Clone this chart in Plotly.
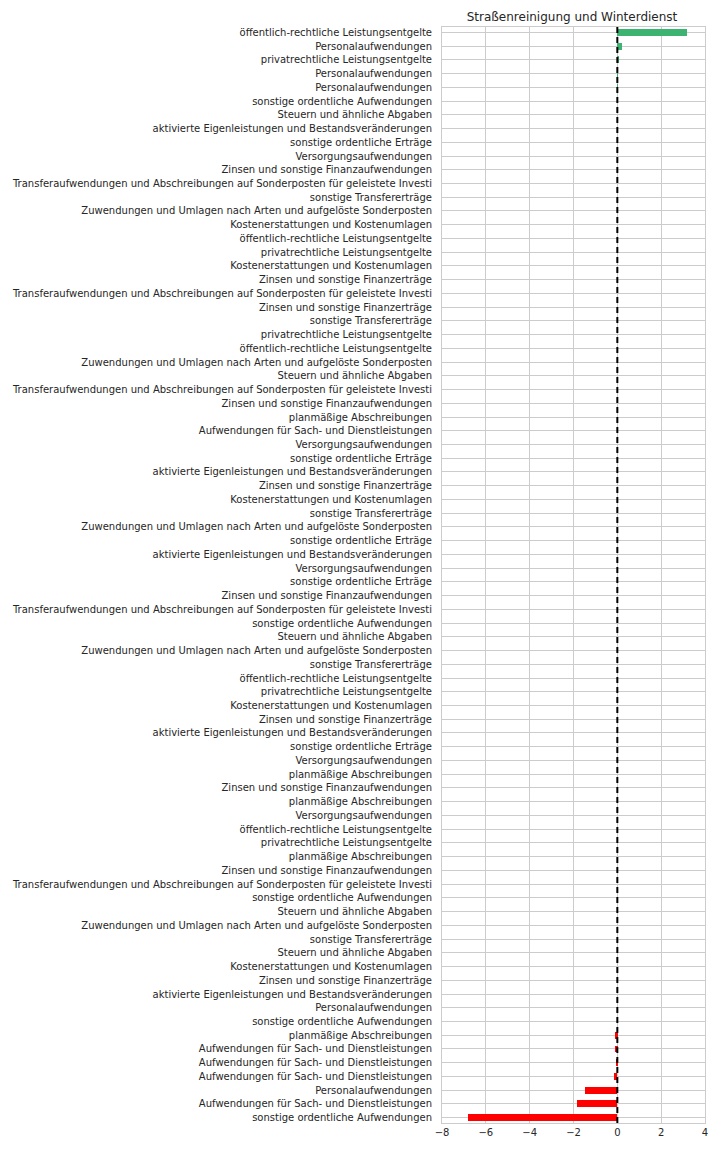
import plotly.graph_objects as go

title = "Straßenreinigung und Winterdienst"

TRANS = "Transferaufwendungen und Abschreibungen auf Sonderposten für geleistete Investi"
ZUW = "Zuwendungen und Umlagen nach Arten und aufgelöste Sonderposten"

labels = [
    "öffentlich-rechtliche Leistungsentgelte",
    "Personalaufwendungen",
    "privatrechtliche Leistungsentgelte",
    "Personalaufwendungen",
    "Personalaufwendungen",
    "sonstige ordentliche Aufwendungen",
    "Steuern und ähnliche Abgaben",
    "aktivierte Eigenleistungen und Bestandsveränderungen",
    "sonstige ordentliche Erträge",
    "Versorgungsaufwendungen",
    "Zinsen und sonstige Finanzaufwendungen",
    TRANS,
    "sonstige Transfererträge",
    ZUW,
    "Kostenerstattungen und Kostenumlagen",
    "öffentlich-rechtliche Leistungsentgelte",
    "privatrechtliche Leistungsentgelte",
    "Kostenerstattungen und Kostenumlagen",
    "Zinsen und sonstige Finanzerträge",
    TRANS,
    "Zinsen und sonstige Finanzerträge",
    "sonstige Transfererträge",
    "privatrechtliche Leistungsentgelte",
    "öffentlich-rechtliche Leistungsentgelte",
    ZUW,
    "Steuern und ähnliche Abgaben",
    TRANS,
    "Zinsen und sonstige Finanzaufwendungen",
    "planmäßige Abschreibungen",
    "Aufwendungen für Sach- und Dienstleistungen",
    "Versorgungsaufwendungen",
    "sonstige ordentliche Erträge",
    "aktivierte Eigenleistungen und Bestandsveränderungen",
    "Zinsen und sonstige Finanzerträge",
    "Kostenerstattungen und Kostenumlagen",
    "sonstige Transfererträge",
    ZUW,
    "sonstige ordentliche Erträge",
    "aktivierte Eigenleistungen und Bestandsveränderungen",
    "Versorgungsaufwendungen",
    "sonstige ordentliche Erträge",
    "Zinsen und sonstige Finanzaufwendungen",
    TRANS,
    "sonstige ordentliche Aufwendungen",
    "Steuern und ähnliche Abgaben",
    ZUW,
    "sonstige Transfererträge",
    "öffentlich-rechtliche Leistungsentgelte",
    "privatrechtliche Leistungsentgelte",
    "Kostenerstattungen und Kostenumlagen",
    "Zinsen und sonstige Finanzerträge",
    "aktivierte Eigenleistungen und Bestandsveränderungen",
    "sonstige ordentliche Erträge",
    "Versorgungsaufwendungen",
    "planmäßige Abschreibungen",
    "Zinsen und sonstige Finanzaufwendungen",
    "planmäßige Abschreibungen",
    "Versorgungsaufwendungen",
    "öffentlich-rechtliche Leistungsentgelte",
    "privatrechtliche Leistungsentgelte",
    "planmäßige Abschreibungen",
    "Zinsen und sonstige Finanzaufwendungen",
    TRANS,
    "sonstige ordentliche Aufwendungen",
    "Steuern und ähnliche Abgaben",
    ZUW,
    "sonstige Transfererträge",
    "Steuern und ähnliche Abgaben",
    "Kostenerstattungen und Kostenumlagen",
    "Zinsen und sonstige Finanzerträge",
    "aktivierte Eigenleistungen und Bestandsveränderungen",
    "Personalaufwendungen",
    "sonstige ordentliche Aufwendungen",
    "planmäßige Abschreibungen",
    "Aufwendungen für Sach- und Dienstleistungen",
    "Aufwendungen für Sach- und Dienstleistungen",
    "Aufwendungen für Sach- und Dienstleistungen",
    "Personalaufwendungen",
    "Aufwendungen für Sach- und Dienstleistungen",
    "sonstige ordentliche Aufwendungen",
]

values = [3.18, 0.22, 0.05, 0.01, 0.005] + [0.0] * 68 + [
    -0.09, -0.09, -0.08, -0.14, -1.46, -1.82, -6.8
]

x_ticks = [-8, -6, -4, -2, 0, 2, 4]

positions = list(range(len(labels)))
colors = ["#3cb371" if v > 0 else "#ff0000" for v in values]

TEXT = "#262626"
GRID = "#cccccc"
n = len(labels)

fig = go.Figure()
fig.add_trace(go.Bar(
    x=values, y=positions, orientation="h", width=0.5,
    marker=dict(color=colors, line=dict(width=0)),
    showlegend=False,
))

fig.add_shape(type="line", xref="x", yref="paper", x0=0, x1=0, y0=0, y1=1,
              line=dict(color="black", width=2, dash="6px,4px"), layer="above")

fig.update_layout(
    width=720, height=1152,
    margin=dict(l=437, r=13, t=27, b=29),
    paper_bgcolor="white", plot_bgcolor="white",
    font=dict(family="DejaVu Sans", size=10, color=TEXT),
    title=dict(text=title, x=(437 + 707) / 2 / 720, xanchor="center",
               y=1 - 17 / 1152, yanchor="middle",
               font=dict(size=12, color=TEXT)),
    bargap=0,
)
fig.update_xaxes(
    range=[-8, 4], tickvals=x_ticks, ticktext=["\u22128", "\u22126", "\u22124", "\u22122", "0", "2", "4"],
    showgrid=True, gridcolor=GRID, gridwidth=1, zeroline=False,
    showline=True, linecolor=GRID, linewidth=1, mirror=True,
    ticks="", tickfont=dict(size=10, color=TEXT),
)
fig.update_yaxes(
    range=[n - 1 + 0.39, -0.39], tickvals=positions, ticktext=labels,
    showgrid=True, gridcolor=GRID, gridwidth=1, zeroline=False,
    showline=True, linecolor=GRID, linewidth=1, mirror=True,
    ticks="", ticklabelstandoff=7, tickfont=dict(size=10, color=TEXT),
)

fig.write_html("out.html")
